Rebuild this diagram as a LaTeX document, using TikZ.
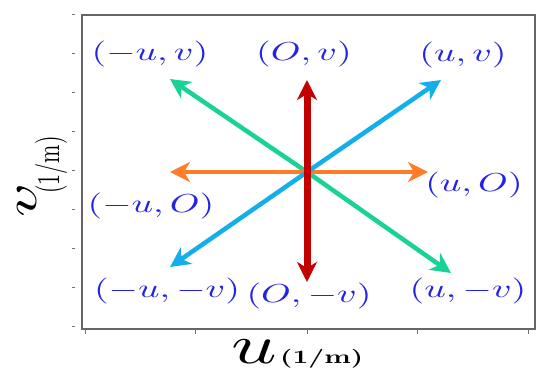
\documentclass[tikz,border=0pt]{standalone}
\usetikzlibrary{arrows.meta}
\definecolor{lblblue}{RGB}{35,35,230}
\definecolor{vred}{RGB}{195,0,0}
\definecolor{vblue}{RGB}{20,175,235}
\definecolor{vgreen}{RGB}{25,210,150}
\definecolor{vorange}{RGB}{255,125,40}
\newcommand{\poslbl}[1]{\scalebox{3.77}[2.6]{$#1$}}

\begin{document}
\begin{tikzpicture}[x=1pt,y=1pt,vec/.style={-{Stealth[length=20pt,width=20pt,inset=6pt]},line width=4.5pt},veclbl/.style={text=lblblue,inner sep=0pt},frame/.style={draw=black!60,line width=1.4pt},tickmark/.style={draw=black!55,line width=1pt}]
\useasboundingbox (0,0) rectangle (550,381);
% frame and ticks
\draw[frame] (82,52) rectangle (535,366);
\foreach \y in {54,93,132,171,210,249,288,327,366} \draw[tickmark] (72,\y) -- (75,\y);
\foreach \x in {85,195,307,417,528} \draw[tickmark] (\x,52) -- (\x,47);
% vector tips
\coordinate (o) at (307,209);
\coordinate (tn) at (307,301); \coordinate (ts) at (307,99);
\coordinate (te) at (428,209); \coordinate (tw) at (170,209);
\coordinate (tne) at (441,301); \coordinate (tsw) at (170,114);
\coordinate (tnw) at (170,302); \coordinate (tse) at (451,108);
\draw[vec,vgreen] (o) -- (tnw); \draw[vec,vgreen] (o) -- (tse);
\draw[vec,vorange] (o) -- (te); \draw[vec,vorange] (o) -- (tw);
\draw[vec,vblue] (o) -- (tne); \draw[vec,vblue] (o) -- (tsw);
\draw[vec,vred,line width=7pt] (o) -- (tn); \draw[vec,vred,line width=7pt] (o) -- (ts);
% labels
\node[veclbl] (lnw) at (150,327) {\poslbl{(-u,v)}}; \node[veclbl] (ln) at (304,327) {\poslbl{(O,v)}}; \node[veclbl] (lne) at (463,326) {\poslbl{(u,v)}};
\node[veclbl] (lw) at (151,175) {\poslbl{(-u,O)}}; \node[veclbl] (le) at (474,196) {\poslbl{(u,O)}};
\node[veclbl] (lsw) at (167,90) {\poslbl{(-u,-v)}}; \node[veclbl] (ls) at (309,85) {\poslbl{(O,-v)}}; \node[veclbl] (lse) at (468,90) {\poslbl{(u,-v)}};
% axis titles
\node[inner sep=0pt,anchor=base] (ulab) at (254,18) {\scalebox{7.98}[5.5]{$u$}};
\node[inner sep=0pt,anchor=base west] (uunit) at ([xshift=3pt]ulab.base east) {\scalebox{2.76}[1.9]{\bfseries(1/m)}};
\node[inner sep=0pt,anchor=base,rotate=90] (vlab) at (36,181) {\scalebox{6.6}[4.4]{$v$}};
\node[inner sep=0pt,anchor=base,rotate=90] (vunit) at (59,216) {\scalebox{2.2}[3.19]{(1/m)}};
\end{tikzpicture}
\end{document}
